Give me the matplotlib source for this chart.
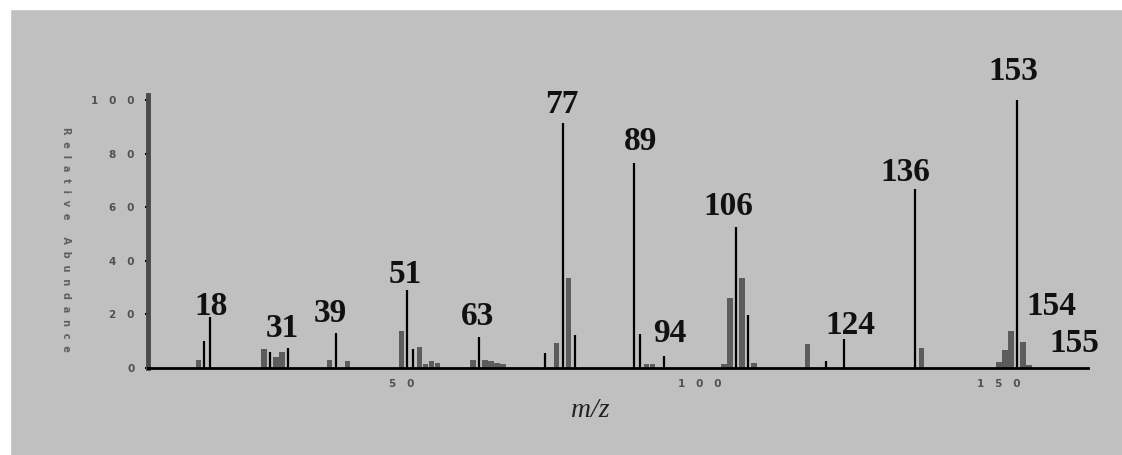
import matplotlib
matplotlib.use("Agg")
import matplotlib.pyplot as plt
from matplotlib.patches import Rectangle

# black stick peaks (m/z, relative abundance)
stick_mz = [17, 18, 28, 31, 39, 51, 52, 63, 74, 77, 79, 89, 90, 94, 106, 108, 121, 124, 136, 153]
stick_int = [10, 19, 6, 7.5, 13, 29, 7, 11.7, 5.6, 91.4, 12.3, 76.5, 12.7, 4.3, 52.6, 19.8, 2.6, 11, 67, 100]
# grey bars
bar_mz = [16, 27, 29, 30, 38, 41, 50, 53, 54, 55, 56, 62, 64, 65, 66, 67, 76, 78, 91, 92,
          104, 105, 107, 109, 118, 137, 150, 151, 152, 154, 155]
bar_int = [3, 7, 4, 6, 3, 2.5, 14, 8, 1.5, 2.5, 2, 3, 3, 2.5, 2, 1.5, 9.3, 33.6, 1.5, 1.5,
           1.5, 26, 33.5, 2, 9, 7.5, 2.3, 6.7, 14, 9.8, 1]

label_mz = [18, 31, 39, 51, 63, 77, 89, 94, 106, 124, 136, 153, 154, 155]
# label offsets from peak top, in pixels
label_off = [(1, 2), (-6, 11), (-5, 11), (-2, 7), (-2, 12), (-1, 10), (6, 13), (5, 14),
             (-8, 12), (7, 5), (-10, 8), (-4, 20), (29, 27), (45, 13)]

yticks = [0, 20, 40, 60, 80, 100]
xticks = [50, 100, 150]


def spaced(s, gap="   "):
    return gap.join(s)


fig = plt.figure(figsize=(11.22, 4.55), dpi=100, facecolor="#c0c0c0")
# white border on the left and top
fig.add_artist(Rectangle((0, 0), 10 / 1122, 1, transform=fig.transFigure, color="white", zorder=-5))
fig.add_artist(Rectangle((0, 1 - 9 / 455), 1, 9 / 455, transform=fig.transFigure, color="white", zorder=-5))

ax = fig.add_axes([148 / 1122, 87 / 455, 940 / 1122, 273 / 455])
ax.set_facecolor("none")

ax.bar(bar_mz, bar_int, width=0.9, color="#5c5c5c", zorder=2)
ax.vlines(stick_mz, 0, stick_int, color="black", linewidth=1.6, zorder=3)

heights = dict(zip(bar_mz, bar_int))
heights.update(dict(zip(stick_mz, stick_int)))
for mz, (dx, dy) in zip(label_mz, label_off):
    ax.annotate(str(mz), (mz, heights[mz]), xytext=(dx, dy), textcoords="offset pixels",
                ha="center", va="baseline", fontsize=24, fontweight="bold",
                family="Liberation Serif", color="#111111")

ax.set_xlim(7.6, 164.9)
ax.set_ylim(0, 102)

for s in ["top", "right"]:
    ax.spines[s].set_visible(False)
ax.spines["left"].set_color("#4a4a4a")
ax.spines["left"].set_linewidth(3.5)
ax.spines["bottom"].set_color("black")
ax.spines["bottom"].set_linewidth(2)
ax.spines["bottom"].set_zorder(4)

ax.set_yticks(yticks)
ax.set_yticklabels([spaced(str(v)) for v in yticks], fontsize=7.5, fontweight="bold", color="#505050")
ax.tick_params(axis="y", direction="out", length=2.5, width=1.5, color="black", pad=7)
ax.set_xticks(xticks)
ax.set_xticklabels([spaced(str(v)) for v in xticks], fontsize=7.5, fontweight="bold", color="#505050")
ax.tick_params(axis="x", length=0, pad=8)

ax.set_xlabel("m/z", fontsize=20, family="Liberation Serif", style="italic", color="#222222")
ax.xaxis.set_label_coords(0.471, -0.154)
ax.xaxis.label.set_va("center")

ax.text(-0.087, 0.47, spaced("Relative Abundance", "  "), transform=ax.transAxes, rotation=270,
        ha="center", va="center", fontsize=7, fontweight="bold", color="#606060")

fig.savefig("out.png", dpi=100, facecolor=fig.get_facecolor())
